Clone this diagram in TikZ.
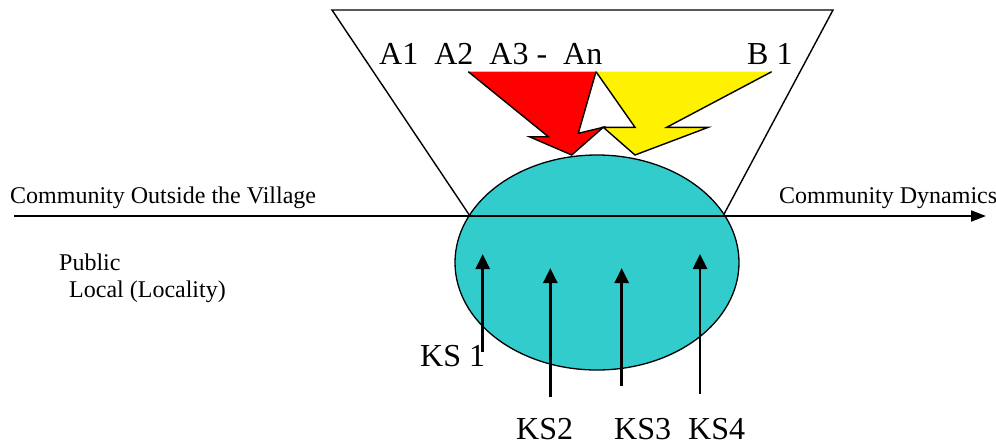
\documentclass[tikz,border=0pt]{standalone}
\usepackage{fontspec}
\setmainfont{Liberation Serif}
\newfontfamily\timesfont{Liberation Serif}
\usetikzlibrary{arrows.meta,shapes.geometric}
\definecolor{poolcyan}{RGB}{51,204,204}
\begin{document}
\begin{tikzpicture}[x=1pt,y=-1pt,
  lbl/.style={inner sep=0pt, anchor=base west, font=\timesfont\fontsize{24}{28}\selectfont},
  biglbl/.style={inner sep=0pt, anchor=base west, font=\timesfont\fontsize{32}{36}\selectfont},
  outline/.style={line width=1.4pt, line join=miter, miter limit=20},
  ksarrow/.style={line width=2.6pt, -{Triangle[length=15pt,width=14pt]}},
  axisarrow/.style={line width=2pt, -{Triangle[length=15pt,width=11pt]}}]
\useasboundingbox (0,0) rectangle (996,445);
% funnel
\coordinate (fBL) at (470,216);
\coordinate (fTL) at (332,10);
\coordinate (fTR) at (833,10);
\coordinate (fBR) at (723,216);
\draw[outline] (fBL) -- (fTL) -- (fTR) -- (fBR);
% pool
\node (pool) [ellipse, draw, fill=poolcyan, line width=1.3pt, minimum width=284pt, minimum height=215pt, inner sep=0pt] at (597,262.5) {};
% axis
\coordinate (axL) at (14,216);
\coordinate (axR) at (986,216);
\draw[axisarrow] (axL) -- (axR);
% KS arrows
\coordinate (k1b) at (482.7,352);
\coordinate (k1t) at (482.7,254);
\coordinate (k2b) at (550.3,397);
\coordinate (k2t) at (550.3,268);
\coordinate (k3b) at (621.7,386);
\coordinate (k3t) at (621.7,268);
\coordinate (k4b) at (700,394);
\coordinate (k4t) at (700,254);
\draw[ksarrow] (k1b) -- (k1t);
\draw[ksarrow] (k2b) -- (k2t);
\draw[ksarrow] (k3b) -- (k3t);
\draw[ksarrow] (k4b) -- (k4t);
% red arrow
\fill[red] (468.3,71.7) -- (596,71.7) -- (578.3,133.3) -- (603.3,127.3) -- (571.7,155) -- (529.3,136.7) -- (548.3,136.7) -- cycle;
\draw[outline] (596,71.7) -- (578.3,133.3) -- (603.3,127.3) -- (571.7,155) -- (529.3,136.7) -- (548.3,136.7) -- (468.3,71.7);
% yellow arrow
\fill[yellow] (596,71.7) -- (771.7,71.7) -- (666.7,127.3) -- (708.3,127.3) -- (635,155) -- (603.3,127.3) -- (635,127.3) -- cycle;
\draw[outline] (771.7,71.7) -- (666.7,127.3) -- (708.3,127.3) -- (635,155) -- (603.3,127.3) -- (635,127.3) -- (596,71.7);
% labels
\node[lbl] (outside) at (10,203) {Community Outside the Village};
\node[lbl] (dyn) at (779,203) {Community Dynamics};
\node[lbl] (public) at (59,270) {Public};
\node[lbl] (local) at (69,297) {Local (Locality)};
\node[biglbl] (alab) at (379,64) {A1~~A2~~A3 -~~An};
\node[biglbl] (blab) at (747,64) {B 1};
\node[biglbl] (ks1) at (420,366) {KS 1};
\node[biglbl] (ks2) at (516,439) {KS2};
\node[biglbl] (ks3) at (614,439) {KS3};
\node[biglbl] (ks4) at (688,439) {KS4};
\end{tikzpicture}
\end{document}
